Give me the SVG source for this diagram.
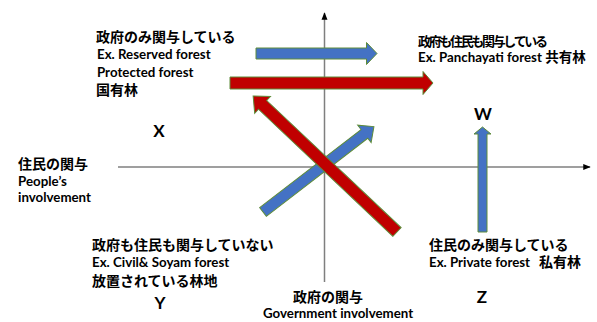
<svg xmlns="http://www.w3.org/2000/svg" width="597" height="322" viewBox="0 0 597 322">
<style>
.t{font-family:Lato,"Noto Sans CJK JP",sans-serif;font-weight:bold;fill:#000}
.j{font-size:14px}
.e{font-size:13.3px}
.q{font-size:17px;text-anchor:middle}
.ax{stroke:#7f7f7f;stroke-width:1.5;fill:none}
.blue{fill:#4472C4;stroke:#5E8C3A;stroke-width:1}
.red{fill:#C00000;stroke:#5E8C3A;stroke-width:1}
</style>
<defs>
<marker id="ah" viewBox="0 0 10 10" refX="9" refY="5" markerWidth="5" markerHeight="5" orient="auto">
<path d="M0,1 L10,5 L0,9 z" fill="#000"/>
</marker>
</defs>
<rect width="597" height="322" fill="#fff"/>
<g id="connectors">
<line class="ax" x1="118" y1="167" x2="590" y2="167" marker-end="url(#ah)"/>
<line class="ax" x1="324.5" y1="282" x2="324.5" y2="13" marker-end="url(#ah)"/>
<polygon class="blue" points="256,48 366.5,48 366.5,42.5 377,53.5 366.5,64.5 366.5,59 256,59"/>
<polygon class="red" points="230,77 423,77 423,71.5 433,83 423,94.5 423,89 230,89"/>
<polygon class="blue" transform="translate(263,212) rotate(-37.6)" points="0,-5.5 128,-5.5 128,-11 140,0 128,11 128,5.5 0,5.5"/>
<polygon class="red" transform="translate(397,232) rotate(223.4)" points="0,-6 185,-6 185,-11.5 198,0 185,11.5 185,6 0,6"/>
<polygon class="blue" transform="translate(482.5,232) rotate(-90)" points="0,-4.5 98,-4.5 98,-8.5 105,0 98,8.5 98,4.5 0,4.5"/>
</g>
<g id="gov-only">
<text class="t j" x="96" y="42">政府のみ関与している</text>
<text class="t e" x="97" y="59">Ex. Reserved forest</text>
<text class="t e" x="97" y="77">Protected forest</text>
<text class="t j" x="96" y="95">国有林</text>
</g>
<g id="both">
<text class="t" x="418" y="46" font-size="13" textLength="130" lengthAdjust="spacing">政府も住民も関与している</text>
<text class="t e" x="418" y="62">Ex. Panchayati forest <tspan font-size="13.5">共有林</tspan></text>
</g>
<g id="quad-x"><text class="t q" x="159" y="137">X</text></g>
<g id="quad-w"><text class="t q" x="483" y="120">W</text></g>
<g id="quad-y"><text class="t q" x="160" y="309">Y</text></g>
<g id="quad-z"><text class="t q" x="482" y="303" font-size="15">Z</text></g>
<g id="people-axis">
<text class="t j" x="18" y="169">住民の関与</text>
<text class="t e" x="18" y="186">People’s</text>
<text class="t e" x="18" y="202">involvement</text>
</g>
<g id="neither">
<text class="t j" x="92" y="250">政府も住民も関与していない</text>
<text class="t e" x="92" y="267">Ex. Civil&amp; Soyam forest</text>
<text class="t j" x="92" y="286">放置されている林地</text>
</g>
<g id="people-only">
<text class="t j" x="429" y="250">住民のみ関与している</text>
<text class="t e" x="429" y="267">Ex. Private forest<tspan x="539" font-size="14">私有林</tspan></text>
</g>
<g id="gov-axis">
<text class="t j" x="293" y="302">政府の関与</text>
<text class="t e" x="263" y="318">Government involvement</text>
</g>
</svg>
